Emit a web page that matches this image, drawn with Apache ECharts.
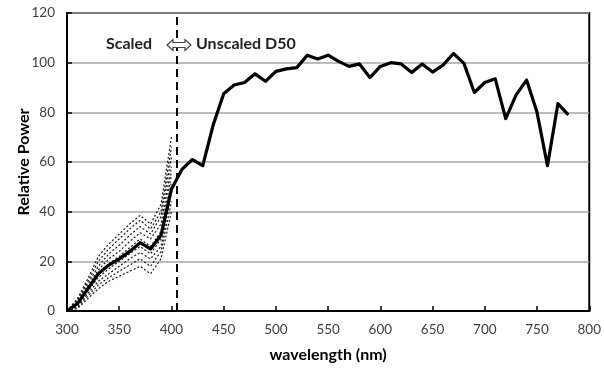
<!DOCTYPE html>
<html>
<head>
<meta charset="utf-8">
<script src="https://cdn.jsdelivr.net/npm/echarts@6/dist/echarts.min.js"></script>
<style>html,body{margin:0;padding:0;background:#fff}#c{width:604px;height:368px}</style>
</head>
<body>
<div id="c"></div>
<script>
var wavelengths = [300,310,320,330,340,350,360,370,380,390,400,410,420,430,440,450,460,470,480,490,500,510,520,530,540,550,560,570,580,590,600,610,620,630,640,650,660,670,680,690,700,710,720,730,740,750,760,770,780];
var relativePower = [0,3,9,15,18.5,21,24,27.5,25,30.5,49,57,61,58.5,75,87.5,91,92,95.5,92.5,96.5,97.5,98,103,101.5,103,100.5,98.5,99.5,94,98.5,100,99.5,96,99.5,96.2,99,103.7,99.7,88,92,93.5,77.5,87,93,80,58.5,83.5,79];
var scaledWavelengths = [300,310,320,330,340,350,360,370,380,390,400];
var scaled1 = [0,1,5,9,12,14,16,18,15,21,40];
var scaled2 = [0,1.5,6,10.5,13.5,16,18.5,21,18,24,44];
var scaled3 = [0,2,7,12,15,18,21,23.5,21,26,48];
var scaled4 = [0,2.5,8,13.5,17,20,23,26,23,29,52];
var scaled5 = [0,3,9,15,19,22,25.5,29,26,32,55];
var scaled6 = [0,3.5,10,16.5,21,24,28,31.5,29,35,58];
var scaled7 = [0,4,11,18,23,26.5,30.5,34,31,38,62];
var scaled8 = [0,4.5,12,20,25,29,33,36.5,33,40,66];
var scaled9 = [0,5,13,22,27,31,35,38.5,35,43,70];
var boundaryWavelength = 405;
var xTicks = [300,350,400,450,500,550,600,650,700,750,800];
var yTicks = [0,20,40,60,80,100,120];

function pairs(xs, ys){ return xs.map(function(x,i){ return [x, ys[i]]; }); }
var scaledSets = [scaled1,scaled2,scaled3,scaled4,scaled5,scaled6,scaled7,scaled8,scaled9];
var series = scaledSets.map(function(s){
  return {type:'line', data:pairs(scaledWavelengths, s), symbol:'none', silent:true,
    lineStyle:{color:'#1a1a1a', width:1.2, type:[2,2]}, z:2};
});
series.push({type:'line', data:pairs(wavelengths, relativePower), symbol:'none',
  lineStyle:{color:'#000', width:3.2, join:'round'}, z:5,
  markLine:{symbol:'none', silent:true, label:{show:false},
    lineStyle:{color:'#000', width:2, type:[8,5]},
    data:[{xAxis:boundaryWavelength}]}});

var chart = echarts.init(document.getElementById('c'), null, {renderer:'canvas'});
var font = 'Lato, "Open Sans", sans-serif';
chart.setOption({
  animation:false,
  grid:{left:67, right:13, top:13, bottom:57, show:true, borderColor:'#000', borderWidth:2},
  xAxis:{type:'value', min:xTicks[0], max:xTicks[xTicks.length-1], interval:50,
    name:'wavelength (nm)', nameLocation:'middle', nameGap:36, nameMoveOverlap:false,
    nameTextStyle:{fontFamily:font, fontWeight:'bold', fontSize:16, color:'#000'},
    axisLine:{lineStyle:{color:'#000', width:2}},
    axisTick:{inside:true, length:5, lineStyle:{color:'#000', width:1.5}},
    axisLabel:{fontFamily:font, fontSize:13.5, color:'#404040', margin:12},
    splitLine:{show:false}},
  yAxis:{type:'value', min:yTicks[0], max:yTicks[yTicks.length-1], interval:20,
    name:'Relative Power', nameLocation:'middle', nameGap:35, nameRotate:90, nameMoveOverlap:false,
    nameTextStyle:{fontFamily:font, fontWeight:'bold', fontSize:16, color:'#000'},
    axisLine:{lineStyle:{color:'#000', width:2}},
    axisTick:{inside:true, length:5, lineStyle:{color:'#000', width:1.5}},
    axisLabel:{fontFamily:font, fontSize:13.5, color:'#404040', margin:12},
    splitLine:{lineStyle:{color:'#a6a6a6', width:1.5}}},
  graphic:[
    {type:'text', left:106, top:36, style:{text:'Scaled', font:'bold 16px '+font, fill:'#222'}},
    {type:'polygon', silent:true, shape:{points:[[167,45],[173,39.5],[173,42.5],[185,42.5],[185,39.5],[191,45],[185,50.5],[185,47.5],[173,47.5],[173,50.5]]},
      style:{fill:'#fff', stroke:'#444', lineWidth:1.2}, z:10},
    {type:'text', left:196, top:36, style:{text:'Unscaled D50', font:'bold 16px '+font, fill:'#222'}}
  ],
  series:series
});
</script>
</body>
</html>
